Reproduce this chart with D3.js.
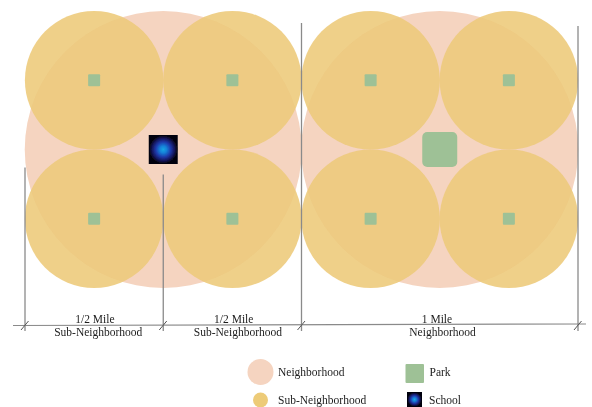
<!DOCTYPE html>
<html>
<head>
<meta charset="utf-8">
<script src="https://cdn.jsdelivr.net/npm/d3@7/dist/d3.min.js"></script>
<style>
  html, body { margin: 0; background: #fff; }
  text { font-family: "Liberation Serif", serif; fill: #1c1c1c; }
</style>
</head>
<body>
<div id="container"></div>
<script>
// all positions in miles, the plan is 2 x 1 miles
const neighborhoodX = [0.5, 1.5];
const neighborhoodY = [0.5];
const subX = [0.25, 0.75, 1.25, 1.75];
const subY = [0.25, 0.75];
const bigParkX = [1.5];
const bigParkY = [0.5];
const schoolX = [0.5];
const schoolY = [0.5];
const dividerX = [0, 0.5, 1, 2];
const dividerTop = [0.565, 0.59, 0.043, 0.054];
const spanTop = ["1/2 Mile", "1/2 Mile", "1 Mile"];
const spanTopX = [0.253, 0.755, 1.49];
const spanBottom = ["Sub-Neighborhood", "Sub-Neighborhood", "Neighborhood"];
const spanBottomX = [0.265, 0.77, 1.51];
const legendItems = ["Neighborhood", "Sub-Neighborhood", "Park", "School"];

const colors = {
  neighborhood: "#f5d4c0",
  sub: "#edca7a",
  park: "#9ec196",
  line: "#8a8a8a"
};

const width = 592, height = 407;
const x = d3.scaleLinear().domain([0, 2]).range([25, 578]);
const y = d3.scaleLinear().domain([0, 1]).range([11, 288]);
const size = d3.scaleLinear().domain([0, 1]).range([0, 277]);
const axisY = y(1) + 37;

const svg = d3.select("#container").append("svg")
  .attr("width", width).attr("height", height)
  .style("display", "block");

const defs = svg.append("defs");
const soft = defs.append("filter").attr("id", "soft");
soft.append("feGaussianBlur").attr("stdDeviation", 0.35);
const softText = defs.append("filter").attr("id", "softText");
softText.append("feGaussianBlur").attr("stdDeviation", 0.25);

const glow = defs.append("radialGradient").attr("id", "glow");
[[0, "#1aa6e2"], [0.25, "#1580d8"], [0.55, "#1f37a8"], [0.85, "#10104a"], [1, "#050510"]]
  .forEach(([o, c]) => glow.append("stop").attr("offset", o).attr("stop-color", c));

const plan = svg.append("g").attr("filter", "url(#soft)");

// neighborhoods
plan.selectAll(".neighborhood").data(neighborhoodX).join("circle")
  .attr("class", "neighborhood")
  .attr("cx", d => x(d))
  .attr("cy", y(neighborhoodY[0]))
  .attr("r", size(0.5))
  .attr("fill", colors.neighborhood);

// sub-neighborhoods
const subCells = subY.flatMap(b => subX.map(a => [a, b]));
plan.selectAll(".sub").data(subCells).join("circle")
  .attr("class", "sub")
  .attr("cx", d => x(d[0]))
  .attr("cy", d => y(d[1]))
  .attr("r", size(0.25))
  .attr("fill", colors.sub)
  .attr("fill-opacity", 0.88);

// small parks
plan.selectAll(".park").data(subCells).join("rect")
  .attr("class", "park")
  .attr("x", d => x(d[0]) - 6)
  .attr("y", d => y(d[1]) - 6)
  .attr("width", 12).attr("height", 12)
  .attr("rx", 1)
  .attr("fill", colors.park);

// big park
plan.selectAll(".bigpark").data(bigParkX).join("rect")
  .attr("class", "bigpark")
  .attr("x", d => x(d) - 17.5)
  .attr("y", y(bigParkY[0]) - 17.5)
  .attr("width", 35).attr("height", 35)
  .attr("rx", 5)
  .attr("fill", colors.park);

// school
const drawSchool = (g, cx, cy, s) => {
  g.append("rect")
    .attr("x", cx - s / 2).attr("y", cy - s / 2)
    .attr("width", s).attr("height", s)
    .attr("fill", "#050510");
  g.append("circle")
    .attr("cx", cx).attr("cy", cy).attr("r", s / 2 - 0.5)
    .attr("fill", "url(#glow)");
};
drawSchool(plan, x(schoolX[0]), y(schoolY[0]), 29);

// dimension lines
const dims = svg.append("g").attr("filter", "url(#soft)")
  .attr("stroke", colors.line).attr("fill", "none");
dims.selectAll(".divider").data(dividerX).join("line")
  .attr("class", "divider")
  .attr("x1", d => x(d)).attr("x2", d => x(d))
  .attr("y1", (d, i) => y(dividerTop[i]))
  .attr("y2", axisY + 6)
  .attr("stroke-width", 1.3);
dims.append("line")
  .attr("x1", 13).attr("x2", 586)
  .attr("y1", axisY + 0.5).attr("y2", axisY - 1)
  .attr("stroke-width", 1.2);
dims.selectAll(".slash").data(dividerX).join("line")
  .attr("class", "slash")
  .attr("x1", d => x(d) - 4).attr("x2", d => x(d) + 3.5)
  .attr("y1", axisY + 5).attr("y2", axisY - 4)
  .attr("stroke", "#555")
  .attr("stroke-width", 1);

// span labels
const labels = svg.append("g").attr("text-anchor", "middle")
  .attr("font-size", 11.5).attr("filter", "url(#softText)");
labels.selectAll(".top").data(spanTop).join("text")
  .attr("class", "top")
  .attr("x", (d, i) => x(spanTopX[i]))
  .attr("y", axisY - 2.5)
  .text(d => d);
labels.selectAll(".bottom").data(spanBottom).join("text")
  .attr("class", "bottom")
  .attr("x", (d, i) => x(spanBottomX[i]))
  .attr("y", axisY + 11)
  .text(d => d);

// legend
const legend = svg.append("g").attr("filter", "url(#soft)");
legend.append("circle").attr("cx", 260.5).attr("cy", 372).attr("r", 13).attr("fill", colors.neighborhood);
legend.append("circle").attr("cx", 260.5).attr("cy", 400).attr("r", 7.5).attr("fill", "#edcb78");
legend.append("rect").attr("x", 405.5).attr("y", 364).attr("width", 18.5).attr("height", 19).attr("rx", 1).attr("fill", colors.park);
drawSchool(legend, 414.5, 399.5, 15);

const legendPos = [[278, 376], [278, 404], [429.5, 376], [429, 404]];
svg.append("g").attr("font-size", 11.5).attr("filter", "url(#softText)")
  .selectAll("text").data(legendItems).join("text")
  .attr("x", (d, i) => legendPos[i][0])
  .attr("y", (d, i) => legendPos[i][1])
  .text(d => d);
</script>
</body>
</html>
